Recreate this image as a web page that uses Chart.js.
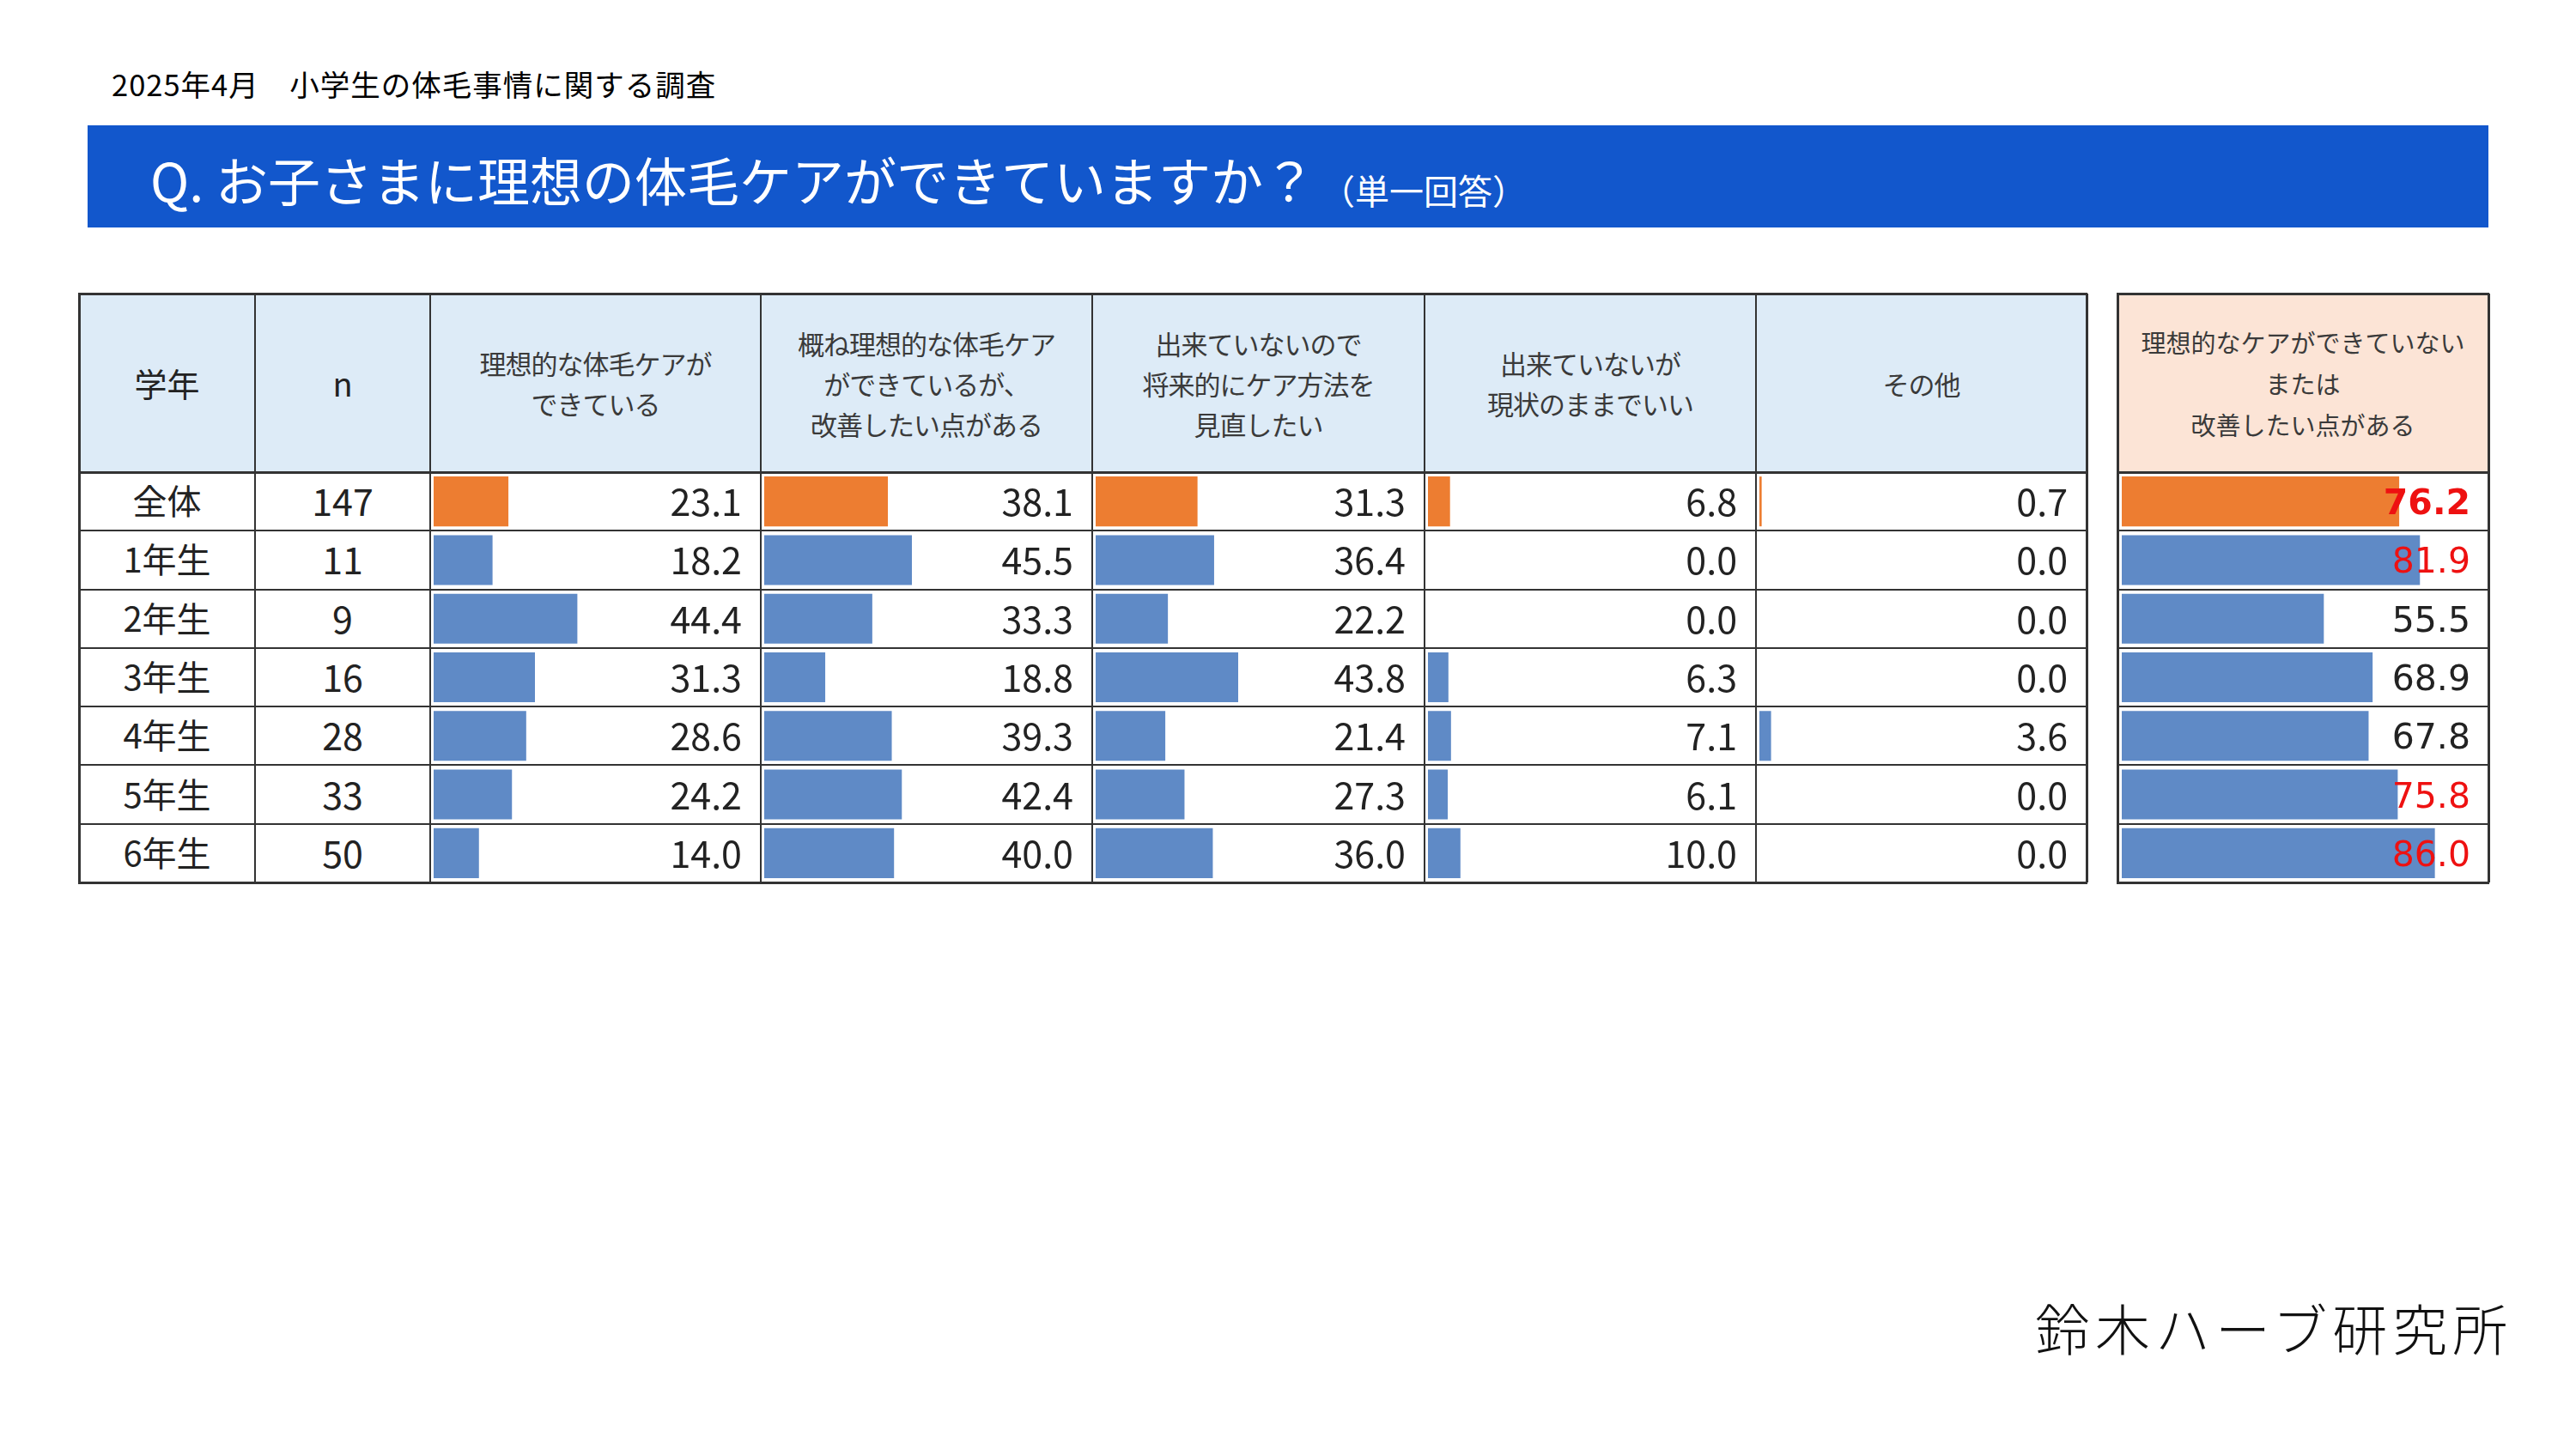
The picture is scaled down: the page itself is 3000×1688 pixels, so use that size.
<!DOCTYPE html>
<html><head><meta charset="utf-8">
<script src="https://cdn.jsdelivr.net/npm/chart.js@4.4.1/dist/chart.umd.min.js"></script>
<style>
html,body{margin:0;padding:0;background:#fff}
body{width:3000px;height:1688px;position:relative;overflow:hidden;font-family:"Noto Sans CJK JP","Noto Sans",sans-serif;color:#111}
.abs{position:absolute}
.line{position:absolute;background:#333}
.cell{position:absolute;display:flex;align-items:center;justify-content:center;text-align:center;box-sizing:border-box;white-space:pre}
canvas{position:absolute;z-index:1}
.txt{z-index:2}
</style></head><body>
<div id="root"></div>
<script>
// ---- data ----
const subtitle = '2025年4月　小学生の体毛事情に関する調査';
const titleText = 'Q. お子さまに理想の体毛ケアができていますか？';
const titleNote = '（単一回答）';
const brand = '鈴木ハーブ研究所';
const grades = ['全体','1年生','2年生','3年生','4年生','5年生','6年生'];
const nValues = [147, 11, 9, 16, 28, 33, 50];
const headerLabels = ['学年','n','理想的な体毛ケアが\nできている','概ね理想的な体毛ケア\nができているが、\n改善したい点がある','出来ていないので\n将来的にケア方法を\n見直したい','出来ていないが\n現状のままでいい','その他'];
const summaryLabel = '理想的なケアができていない\nまたは\n改善したい点がある';
const ideal        = [23.1, 18.2, 44.4, 31.3, 28.6, 24.2, 14.0];
const mostlyIdeal  = [38.1, 45.5, 33.3, 18.8, 39.3, 42.4, 40.0];
const reviewLater  = [31.3, 36.4, 22.2, 43.8, 21.4, 27.3, 36.0];
const fineAsIs     = [6.8, 0.0, 0.0, 6.3, 7.1, 6.1, 10.0];
const other        = [0.7, 0.0, 0.0, 0.0, 3.6, 0.0, 0.0];
const notIdeal     = [76.2, 81.9, 55.5, 68.9, 67.8, 75.8, 86.0];
const seriesCols = [ideal, mostlyIdeal, reviewLater, fineAsIs, other];

// ---- layout ----
const ORANGE = '#ED7D31', BLUE = '#5F8AC6';
const colX = [92, 297, 501, 886, 1272, 1659, 2045, 2430];
const sumX = [2466, 2898];
const top0 = 342, headB = 550, rowH = (1028 - 550) / 7, bot = 1028;
const root = document.getElementById('root');

function el(cls, css, text) {
  const d = document.createElement('div');
  d.className = cls;
  Object.assign(d.style, css);
  if (text !== undefined) d.textContent = text;
  root.appendChild(d);
  return d;
}
const px = v => v + 'px';

// subtitle
el('abs', {left:'130px', top:'72px', fontSize:'34.5px', lineHeight:'50px', letterSpacing:'1px', color:'#000', whiteSpace:'pre'}, subtitle);
// title bar
el('abs', {left:'102px', top:'146px', width:'2796px', height:'119px', background:'#1257CC'});
el('abs', {left:'175px', top:'167px', fontSize:'61px', lineHeight:'84px', color:'#fff', whiteSpace:'pre'}, titleText);
el('abs', {left:'1538px', top:'194px', fontSize:'40px', lineHeight:'54px', color:'#fff', whiteSpace:'pre'}, titleNote);
// brand
el('abs', {left:'2370px', top:'1500px', fontSize:'64px', lineHeight:'90px', letterSpacing:'6px', color:'#111', fontWeight:'200', whiteSpace:'pre'}, brand);

// header backgrounds
el('abs', {left:px(colX[0]), top:px(top0), width:px(colX[7]-colX[0]), height:px(headB-top0), background:'#DDEBF7'});
el('abs', {left:px(sumX[0]), top:px(top0), width:px(sumX[1]-sumX[0]), height:px(headB-top0), background:'#FCE4D6'});

// header labels
headerLabels.forEach((lab, i) => {
  const big = i < 2;
  el('cell txt', {left:px(colX[i]), top:px(top0), width:px(colX[i+1]-colX[i]), height:px(headB-top0),
    fontSize: big ? '38px' : '31px', lineHeight: big ? '50px' : '47px', color: big ? '#222' : '#3a3a3a', letterSpacing: big ? '0' : '-1px'}, lab);
});
el('cell txt', {left:px(sumX[0]), top:px(top0), width:px(sumX[1]-sumX[0]), height:px(headB-top0), fontSize:'29px', lineHeight:'48px', color:'#3a3a3a'}, summaryLabel);

// row labels and n
grades.forEach((g, r) => {
  const y = headB + r * rowH - 2;
  el('cell txt', {left:px(colX[0]), top:px(y), width:px(colX[1]-colX[0]), height:px(rowH), fontSize:'40px', color:'#222'}, g);
  el('cell txt', {left:px(colX[1]), top:px(y), width:px(colX[2]-colX[1]), height:px(rowH), fontSize:'43px', color:'#222'}, String(nValues[r]));
});

// bar charts
function barChart(x, w, values, pad) {
  const c = document.createElement('canvas');
  c.width = w; c.height = Math.round(bot - headB);
  c.style.left = px(x); c.style.top = px(headB);
  c.style.width = px(w); c.style.height = px(bot - headB);
  root.appendChild(c);
  new Chart(c, {
    type: 'bar',
    data: { labels: grades, datasets: [{ data: values,
      backgroundColor: grades.map((g, i) => i === 0 ? ORANGE : BLUE),
      borderWidth: 0, barPercentage: 0.85, categoryPercentage: 1 }] },
    options: { indexAxis: 'y', responsive: false, animation: false, devicePixelRatio: 1, events: [],
      layout: { padding: { left: pad[0], right: pad[1], top: 0, bottom: 0 } },
      plugins: { legend: { display: false }, tooltip: { enabled: false } },
      scales: { x: { display: false, min: 0, max: 100 }, y: { display: false } } }
  });
}
seriesCols.forEach((vals, k) => {
  const i = k + 2;
  barChart(colX[i], colX[i+1]-colX[i], vals, [4, 4]);
  vals.forEach((v, r) => {
    el('cell txt', {left:px(colX[i]), top:px(headB + r*rowH - 2), width:px(colX[i+1]-colX[i]-22), height:px(rowH),
      justifyContent:'flex-end', fontSize:'43px', color:'#222'}, v.toFixed(1));
  });
});
barChart(sumX[0], sumX[1]-sumX[0], notIdeal, [5, 3]);
notIdeal.forEach((v, r) => {
  const hi = v >= 75;
  el('cell txt', {left:px(sumX[0]), top:px(headB + r*rowH + 1), width:px(sumX[1]-sumX[0]-21), height:px(rowH),
    justifyContent:'flex-end', fontFamily:'"DejaVu Sans",Verdana,sans-serif', fontSize:'41px',
    fontWeight: r === 0 ? 'bold' : 'normal', color: hi ? '#EE1111' : '#222'}, v.toFixed(1));
});

// grid lines
function hline(x1, x2, y, t) { el('line', {left:px(x1), top:px(y - t/2), width:px(x2-x1), height:px(t), zIndex:3}); }
function vline(x, y1, y2, t) { el('line', {left:px(x - t/2), top:px(y1), width:px(t), height:px(y2-y1), zIndex:3}); }
[top0, headB, bot].forEach(y => { hline(colX[0]-1, colX[7]+1, y, 3); hline(sumX[0]-1, sumX[1]+1, y, 3); });
for (let r = 1; r < 7; r++) { const y = headB + r*rowH; hline(colX[0], colX[7], y, 2); hline(sumX[0], sumX[1], y, 2); }
colX.forEach((x, i) => vline(x, top0, bot, (i === 0 || i === 7) ? 3 : 2));
sumX.forEach(x => vline(x, top0, bot, 3));
</script>
</body></html>
